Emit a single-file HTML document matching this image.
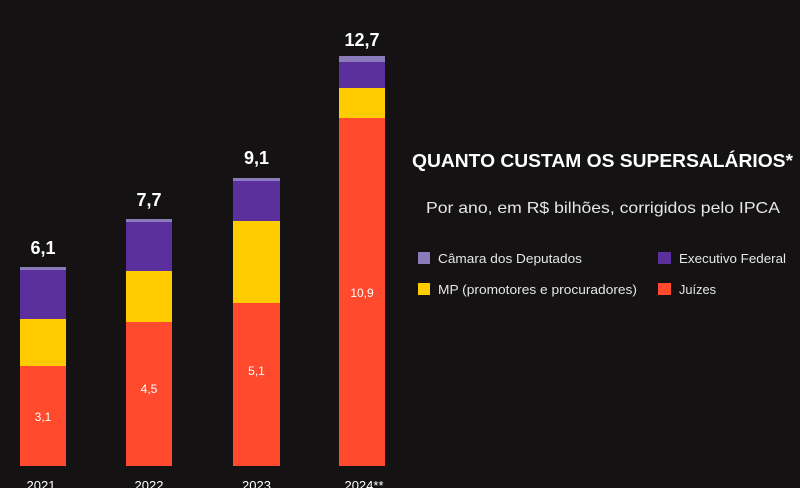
<!DOCTYPE html>
<html><head><meta charset="utf-8"><style>
html,body{margin:0;padding:0;background:#141212;}
svg{display:block;font-family:"Liberation Sans",sans-serif;}
</style></head><body>
<svg width="800" height="488" viewBox="0 0 800 488" xmlns="http://www.w3.org/2000/svg">
<rect width="800" height="488" fill="#141212"/>
<!-- Bar 2021 -->
<rect x="20" y="267" width="46" height="3" fill="#8C7BBA"/>
<rect x="20" y="270" width="46" height="49" fill="#5C309C"/>
<rect x="20" y="319" width="46" height="47" fill="#FFCC00"/>
<rect x="20" y="366" width="46" height="100" fill="#FF4A2E"/>
<!-- Bar 2022 -->
<rect x="126" y="219" width="46" height="3" fill="#8C7BBA"/>
<rect x="126" y="222" width="46" height="49" fill="#5C309C"/>
<rect x="126" y="271" width="46" height="51" fill="#FFCC00"/>
<rect x="126" y="322" width="46" height="144" fill="#FF4A2E"/>
<!-- Bar 2023 -->
<rect x="233" y="178" width="47" height="3" fill="#8C7BBA"/>
<rect x="233" y="181" width="47" height="40" fill="#5C309C"/>
<rect x="233" y="221" width="47" height="82" fill="#FFCC00"/>
<rect x="233" y="303" width="47" height="163" fill="#FF4A2E"/>
<!-- Bar 2024 -->
<rect x="339" y="56" width="46" height="6" fill="#8C7BBA"/>
<rect x="339" y="62" width="46" height="26" fill="#5C309C"/>
<rect x="339" y="88" width="46" height="30" fill="#FFCC00"/>
<rect x="339" y="118" width="46" height="348" fill="#FF4A2E"/>

<!-- totals -->
<g fill="#ffffff" font-weight="bold" font-size="18" text-anchor="middle">
<text x="43" y="254">6,1</text>
<text x="149" y="206">7,7</text>
<text x="256.5" y="164">9,1</text>
<text x="362" y="46">12,7</text>
</g>
<!-- inner labels -->
<g fill="#ffffff" font-size="12" text-anchor="middle">
<text x="43" y="421">3,1</text>
<text x="149" y="393">4,5</text>
<text x="256.5" y="375">5,1</text>
<text x="362" y="297">10,9</text>
</g>
<!-- years -->
<g fill="#ffffff" font-size="13" text-anchor="middle">
<text x="41" y="490">2021</text>
<text x="149" y="490">2022</text>
<text x="256.5" y="490">2023</text>
<text x="364" y="490">2024**</text>
</g>

<!-- title -->
<text x="412" y="167" fill="#ffffff" font-weight="bold" font-size="18" textLength="381" lengthAdjust="spacingAndGlyphs">QUANTO CUSTAM OS SUPERSALÁRIOS*</text>
<text x="426" y="213" fill="#e6e6e6" font-size="16" textLength="354" lengthAdjust="spacingAndGlyphs">Por ano, em R$ bilhões, corrigidos pelo IPCA</text>

<!-- legend -->
<rect x="418" y="252" width="12" height="12" fill="#8C7BBA"/>
<text x="438" y="263" fill="#e6e6e6" font-size="13" textLength="144" lengthAdjust="spacingAndGlyphs">Câmara dos Deputados</text>
<rect x="658" y="252" width="13" height="12" fill="#5C309C"/>
<text x="679" y="263" fill="#e6e6e6" font-size="13" textLength="107" lengthAdjust="spacingAndGlyphs">Executivo Federal</text>
<rect x="418" y="283" width="12" height="12" fill="#FFCC00"/>
<text x="438" y="294" fill="#e6e6e6" font-size="13" textLength="199" lengthAdjust="spacingAndGlyphs">MP (promotores e procuradores)</text>
<rect x="658" y="283" width="13" height="12" fill="#FF4A2E"/>
<text x="679" y="294" fill="#e6e6e6" font-size="13" textLength="37" lengthAdjust="spacingAndGlyphs">Juízes</text>
</svg>
</body></html>
